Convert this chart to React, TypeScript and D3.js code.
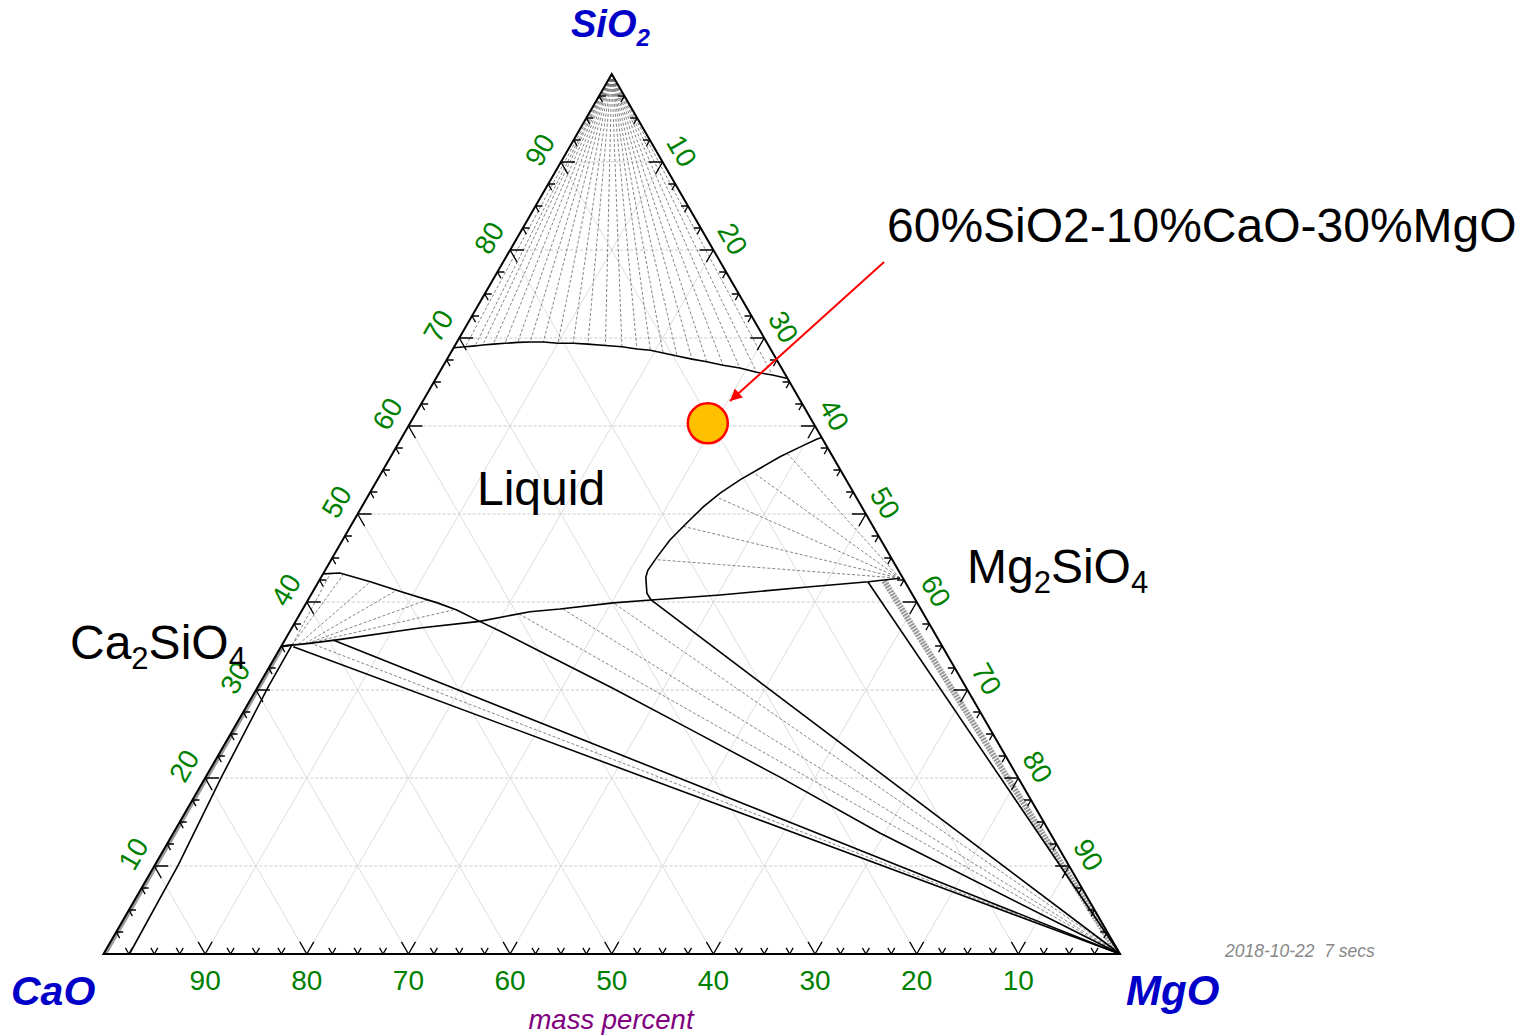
import React from 'react';
import * as d3 from 'd3';

const W = 1533;
const H = 1035;

// All compositions are [SiO2 %, MgO %]; CaO = 100 - SiO2 - MgO
const APEX_SIO2: [number, number] = [100, 0];
const CORNER_MGO: [number, number] = [0, 100];

// Liquid + SiO2 boundary (top)
const silicaLiquidus: [number, number][] = [
  [68.9, 0], [69.0, 1.1], [69.1, 2.0], [69.2, 2.7], [69.3, 3.7], [69.4, 4.8], [69.5, 6.0],
  [69.55, 7.2], [69.55, 8.5], [69.4, 10.0], [69.4, 11.5], [69.3, 13.0], [69.15, 14.8],
  [69.0, 16.5], [68.75, 18.1], [68.6, 19.5], [68.3, 20.9], [67.95, 22.45], [67.6, 24.1],
  [67.3, 25.7], [66.9, 27.5], [66.6, 29.3], [66.1, 31.2], [65.8, 32.9], [65.4, 34.6],
];

// Liquid + Mg2SiO4 boundary (right)
const forsteriteLiquidus: [number, number][] = [
  [58.7, 41.3], [58.5, 40.9], [57.6, 39.7], [56.5, 38.3], [55.2, 37.0], [53.9, 35.7],
  [52.4, 34.5], [50.8, 33.6], [49.0, 32.9], [47.05, 32.2], [45.1, 31.9], [43.6, 31.75],
  [42.8, 31.95], [41.0, 32.96], [40.23, 33.75],
];
const forsterite: [number, number] = [42.7, 57.0];
const forsteriteTieEnds: [number, number][] = [
  [56.9, 38.8], [54.7, 36.6], [51.9, 34.4], [48.6, 32.7], [44.8, 32.1],
];

// Ca2SiO4 - Mg2SiO4 line (lower liquid boundary)
const silicateJoin: [number, number][] = [
  [35.0, 0], [35.1, 1.0], [35.3, 2.6], [35.7, 5.1], [37.05, 12.6], [37.8, 18.1],
  [38.9, 22.5], [39.2, 25.3], [39.9, 30.2], [40.23, 33.75], [40.8, 40.25], [41.7, 48.4],
  [42.3, 54.1], [42.7, 57.0],
];

// Liquid + Ca2SiO4 boundary, continuing to MgO
const larniteLiquidus: [number, number][] = [
  [43.2, 0], [43.3, 1.6], [42.3, 5.1], [41.1, 8.9], [39.9, 12.9], [39.1, 15.2], [37.8, 18.1],
  [36.5, 21.1], [34.55, 25.4], [30.2, 35.0], [25.7, 44.6], [20.1, 56.5], [13.75, 69.5], [0, 100],
];
const larniteTieStarts: [number, number][] = [
  [35.1, 1.0], [35.1, 1.0], [35.2, 1.6], [35.3, 2.2], [35.3, 2.4], [35.35, 2.6],
];
const larniteTieEnds: [number, number][] = [
  [43.18, 0.7], [43.07, 2.03], [42.27, 5.08], [41.36, 8.19], [40.23, 11.71], [39.09, 14.83],
];

// Liquid + MgO tie lines
const periclaseTieStarts: [number, number][] = [[38.64, 21.55], [39.2, 25.6], [39.77, 30.43]];
const invariantPoint: [number, number] = [40.23, 33.75];

// Ca2SiO4 + MgO band
const bandUpper: [number, number] = [35.68, 4.74];
const bandMiddle: [number, number] = [35.34, 2.64];
const bandLower: [number, number] = [34.92, 1.21];

// Near-edge boundaries
const leftInnerLine: [number, number][] = [[35.1, 0.98], [30.4, 1.03], [20.15, 1.55], [10.1, 2.3], [0, 2.55]];
const leftHatch: [number, number][] = [[35.0, 0.15], [0, 0.15]];
const leftJunction: [number, number][] = [[35.0, 0], [35.1, 1.0]];
const rightInnerLine: [number, number][] = [[42.27, 54.07], [0, 100]];
const rightHatch: [number, number][] = [[42.4, 55.6], [0.3, 99.5]];

// Marked composition and arrow
const markedPoint: [number, number] = [60.3, 29.3];
const arrowFrom: [number, number] = [78.64, 37.47];
const arrowTo: [number, number] = [62.84, 30.21];

const gridValues = [10, 20, 30, 40, 50, 60, 70, 80, 90];
const tickValues = [2.5, 5, 7.5, 10, 12.5, 15, 17.5, 20, 22.5, 25, 27.5, 30, 32.5, 35, 37.5, 40,
  42.5, 45, 47.5, 50, 52.5, 55, 57.5, 60, 62.5, 65, 67.5, 70, 72.5, 75, 77.5, 80, 82.5, 85, 87.5,
  90, 92.5, 95, 97.5];
const bottomLabels = ['90', '80', '70', '60', '50', '40', '30', '20', '10'];

const xScale = d3.scaleLinear().domain([0, 100]).range([103.5, 1120]);
const yScale = d3.scaleLinear().domain([0, 100]).range([954, 74]);
const P = (d: [number, number]): [number, number] => [xScale(d[1] + d[0] / 2), yScale(d[0])];
const lineGen = d3.line<[number, number]>().x(d => P(d)[0]).y(d => P(d)[1]);

const FONT = '"Liberation Sans", Arial, Helvetica, sans-serif';
const GREEN = '#008000';
const BLUE = '#0000c8';

function ticksFor(pt: [number, number], dirs: [number, number][], len: number) {
  const [x, y] = P(pt);
  return dirs.map(([dx, dy]) => `M${x},${y}L${x + dx * len},${y + dy * len}`).join('');
}

export default function App() {
  const S3 = Math.sqrt(3) / 2;
  const tickPaths: string[] = [];
  tickValues.forEach(v => {
    const len = v % 10 === 0 ? 14 : 7;
    tickPaths.push(ticksFor([0, 100 - v], [[0.5, -S3], [-0.5, -S3]], len));
    tickPaths.push(ticksFor([v, 0], [[1, 0], [0.5, S3]], len));
    tickPaths.push(ticksFor([100 - v, v], [[-1, 0], [-0.5, S3]], len));
  });

  const tie = (a: [number, number], b: [number, number]) => lineGen([a, b]) || '';
  const tieStyle = { stroke: '#666', strokeWidth: 0.8, strokeDasharray: '3,2', fill: 'none' };
  const bound = { stroke: '#000', strokeWidth: 1.6, fill: 'none' };
  const [cx, cy] = P(markedPoint);

  return (
    <svg width={W} height={H} style={{ position: 'absolute', left: 0, top: 0, background: '#fff' }}
      fontFamily={FONT}>
      <defs>
        <marker id="ah" viewBox="0 0 10 10" refX="10" refY="5" markerWidth="16" markerHeight="12"
          markerUnits="userSpaceOnUse" orient="auto">
          <path d="M0,0L10,5L0,10z" fill="#ff0000" />
        </marker>
      </defs>
      {gridValues.map(v => (
        <g key={'g' + v}>
          <path d={tie([v, 0], [v, 100 - v])} stroke="#c4c4c4" strokeWidth={0.9} strokeDasharray="3,2" />
          <path d={tie([0, v], [100 - v, v])} stroke="#d9d9d9" strokeWidth={0.9} />
          <path d={tie([0, 100 - v], [100 - v, 0])} stroke="#d9d9d9" strokeWidth={0.9} />
        </g>
      ))}

      <path d={lineGen(leftHatch) || ''} stroke="#999" strokeWidth={4} fill="none" />
      <path d={lineGen(rightHatch) || ''} stroke="#999" strokeWidth={6} strokeDasharray="2,1" fill="none" />

      {silicaLiquidus.slice(1, -1).map((d, i) => <path key={'st' + i} d={tie(APEX_SIO2, d)} {...tieStyle} />)}
      {forsteriteTieEnds.map((d, i) => <path key={'ft' + i} d={tie(forsterite, d)} {...tieStyle} />)}
      {larniteTieEnds.map((d, i) => <path key={'lt' + i} d={tie(larniteTieStarts[i], d)} {...tieStyle} />)}
      {periclaseTieStarts.map((d, i) => <path key={'pt' + i} d={tie(d, CORNER_MGO)} {...tieStyle} />)}
      <path d={tie(bandMiddle, CORNER_MGO)} {...tieStyle} />

      <path d={lineGen(silicaLiquidus) || ''} {...bound} />
      <path d={lineGen(forsteriteLiquidus) || ''} {...bound} />
      <path d={lineGen(silicateJoin) || ''} {...bound} />
      <path d={lineGen(larniteLiquidus) || ''} {...bound} />
      <path d={tie(invariantPoint, CORNER_MGO)} {...bound} />
      <path d={tie(bandUpper, CORNER_MGO)} {...bound} />
      <path d={tie(bandLower, CORNER_MGO)} {...bound} />
      <path d={lineGen(leftInnerLine) || ''} {...bound} />
      <path d={lineGen(leftJunction) || ''} {...bound} />
      <path d={lineGen(rightInnerLine) || ''} {...bound} />

      <path d={(lineGen([[0, 0], [0, 100], [100, 0]]) || '') + 'Z'} stroke="#000" strokeWidth={2} fill="none" />
      <path d={tickPaths.join('')} stroke="#000" strokeWidth={1.3} fill="none" />

      {bottomLabels.map(lab => {
        const c = +lab;
        const [x, y] = P([0, 100 - c]);
        return <text key={'b' + lab} x={x} y={y + 26} fill={GREEN} fontSize={28} textAnchor="middle"
          dominantBaseline="central">{lab}</text>;
      })}
      {gridValues.map(v => {
        const [x0, y0] = P([v, 0]);
        const x = x0 - 24 * S3, y = y0 - 24 * 0.5;
        return <text key={'l' + v} x={x} y={y} fill={GREEN} fontSize={28} textAnchor="middle"
          dominantBaseline="central" transform={`rotate(-60 ${x} ${y})`}>{v}</text>;
      })}
      {gridValues.map(v => {
        const [x0, y0] = P([100 - v, v]);
        const x = x0 + 22 * S3, y = y0 - 22 * 0.5;
        return <text key={'r' + v} x={x} y={y} fill={GREEN} fontSize={28} textAnchor="middle"
          dominantBaseline="central" transform={`rotate(60 ${x} ${y})`}>{v}</text>;
      })}

      <text x={571} y={37} fill={BLUE} fontSize={38} fontWeight="bold" fontStyle="italic">
        SiO<tspan fontSize={24} dy={9}>2</tspan>
      </text>
      <text x={11} y={1005} fill={BLUE} fontSize={41} fontWeight="bold" fontStyle="italic">CaO</text>
      <text x={1126} y={1005} fill={BLUE} fontSize={42} fontWeight="bold" fontStyle="italic">MgO</text>
      <text x={611} y={1029} fill="#800080" fontSize={27.5} fontStyle="italic" textAnchor="middle">mass percent</text>
      <text x={1225} y={957} fill="#888" fontSize={17.5} fontStyle="italic" xmlSpace="preserve">2018-10-22  7 secs</text>

      <text x={477} y={505} fontSize={48} fill="#000">Liquid</text>
      <text x={967} y={583} fontSize={48} fill="#000">
        Mg<tspan fontSize={31} dy={10}>2</tspan><tspan dy={-10}>SiO</tspan><tspan fontSize={31} dy={10}>4</tspan>
      </text>
      <text x={70} y={659} fontSize={48} fill="#000">
        Ca<tspan fontSize={31} dy={10}>2</tspan><tspan dy={-10}>SiO</tspan><tspan fontSize={31} dy={10}>4</tspan>
      </text>
      <text x={887} y={242} fontSize={48} fill="#000">60%SiO2-10%CaO-30%MgO</text>

      <path d={tie(arrowFrom, arrowTo)} stroke="#ff0000" strokeWidth={2} fill="none" markerEnd="url(#ah)" />
      <circle cx={cx} cy={cy} r={20} fill="#ffc000" stroke="#ff0000" strokeWidth={2.5} />
    </svg>
  );
}
